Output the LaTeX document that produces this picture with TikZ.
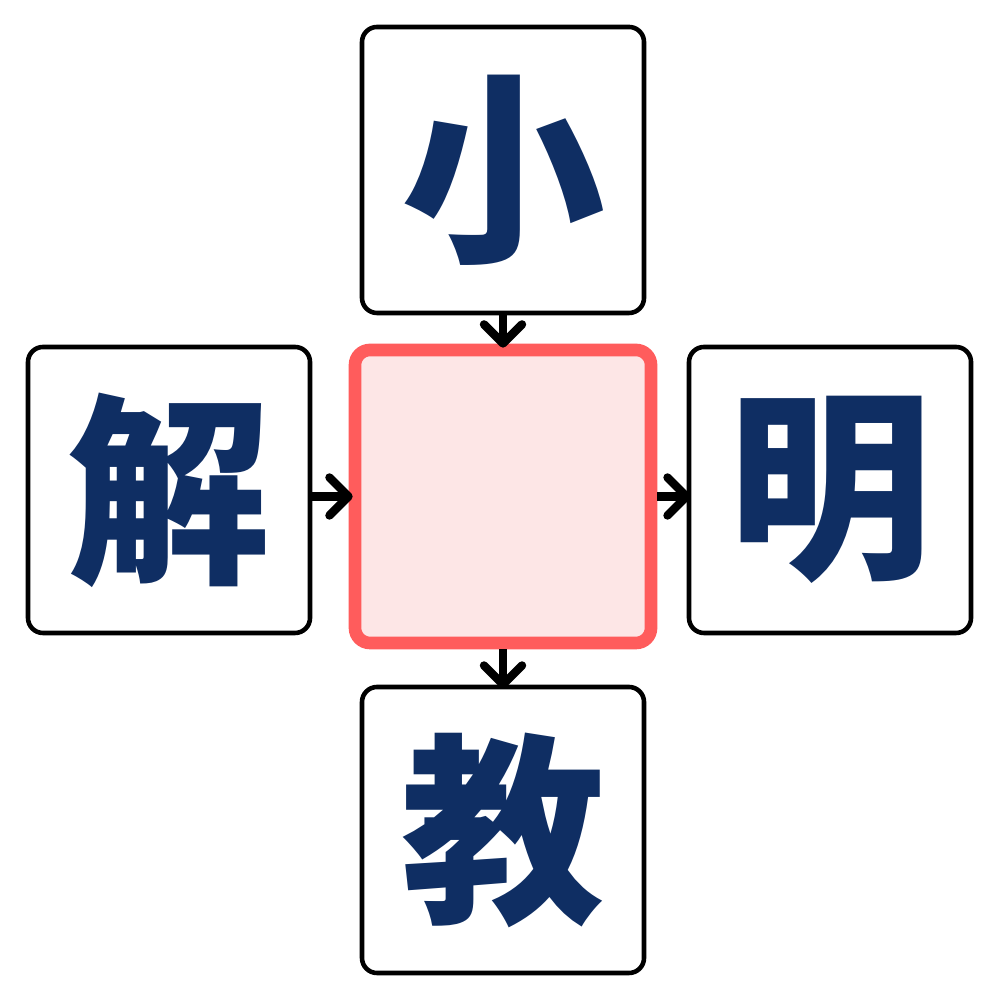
\documentclass[tikz,border=0pt]{standalone}
\usepackage{fontspec}
\newfontfamily\cjk{Noto Sans CJK SC}
\usetikzlibrary{arrows.meta, positioning}
\definecolor{navy}{HTML}{0F2E63}
\definecolor{redline}{HTML}{FF5C5C}
\definecolor{redfill}{HTML}{FDE6E6}
\tikzset{
  charbox/.style={
    rectangle, rounded corners=0.15cm, minimum width=2.82cm, minimum height=2.86cm,
    text centered, draw=black, line width=1.3pt, fill=white,
    font=\cjk\bfseries\fontsize{58}{60}\selectfont, text=navy
  },
  blank/.style={
    rectangle, rounded corners=0.15cm, minimum width=2.96cm, minimum height=2.93cm,
    draw=redline, fill=redfill, line width=3.6pt
  },
  arrow/.style={
    -{Straight Barb[round, length=1.9mm, width=3.8mm]}, line width=2.4pt, color=black,
    shorten >=-0.4mm
  }
}

\begin{document}
\begin{tikzpicture}
      \useasboundingbox (0,0) rectangle (10,10);
      % Empty square in the middle
      \node[blank] (cell) at (5.03,5.035) {};

      % Surrounding characters
      \node[charbox] (up) at (5.03,8.30) {小};
      \node[charbox] (lt) at (1.69,5.10) {解};
      \node[charbox] (rt) at (8.30,5.10) {明};
      \node[charbox] (dn) at (5.03,1.70) {教};

      % Arrows through the middle square
      \draw[arrow] (up.south) -- (cell.north);
      \draw[arrow] (lt.east |- cell.west) -- (cell.west);
      \draw[arrow] (cell.east) -- (rt.west |- cell.east);
      \draw[arrow] (cell.south) -- (dn.north);
\end{tikzpicture}
\end{document}
